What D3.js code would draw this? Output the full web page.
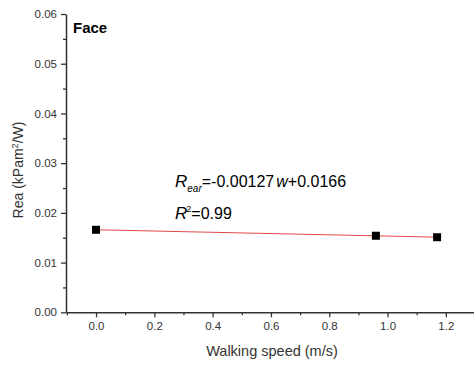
<!DOCTYPE html>
<html>
<head>
<meta charset="utf-8">
<script src="https://cdn.jsdelivr.net/npm/d3@7"></script>
<style>
  body { margin: 0; background: #fff; }
  svg { font-family: Arial, "Liberation Sans", sans-serif; }
</style>
</head>
<body>
<svg class="chart" width="474" height="366"></svg>
<script>
// data
const speeds = [0, 0.96, 1.17];
const reaValues = [0.0166, 0.0154, 0.0151];
const xTicks = [0, 0.2, 0.4, 0.6, 0.8, 1.0, 1.2];
const yTicks = [0, 0.01, 0.02, 0.03, 0.04, 0.05, 0.06];
const fitSlope = -0.00127;
const fitIntercept = 0.0166;

const svg = d3.select('.chart');

const x = d3.scaleLinear().domain([-0.103, 1.3]).range([66, 475]);
const y = d3.scaleLinear().domain([0, 0.06]).range([312.3, 14]);

const axisColor = '#333';

// minor ticks
svg.append('g')
   .attr('transform', `translate(0, ${y(0)})`)
   .call(d3.axisBottom(x).tickValues(d3.range(-0.1, 1.31, 0.1).filter(v => Math.abs(Math.round(v * 10) % 2) === 1)).tickSize(3).tickFormat(''))
   .call(g => g.select('.domain').remove())
   .call(g => g.selectAll('line').attr('stroke', axisColor).attr('stroke-width', 1.3));

svg.append('g')
   .attr('transform', `translate(${x.range()[0]}, 0)`)
   .call(d3.axisLeft(y).tickValues(d3.range(0.005, 0.06, 0.01)).tickSize(3).tickFormat(''))
   .call(g => g.select('.domain').remove())
   .call(g => g.selectAll('line').attr('stroke', axisColor).attr('stroke-width', 1.3));

// major axes
const xAxis = svg.append('g')
   .attr('transform', `translate(0, ${y(0)})`)
   .call(d3.axisBottom(x).tickValues(xTicks).tickSize(5).tickPadding(5).tickFormat(d3.format('.1f')).tickSizeOuter(0));

const yAxis = svg.append('g')
   .attr('transform', `translate(${x.range()[0]}, 0)`)
   .call(d3.axisLeft(y).tickValues(yTicks).tickSize(5).tickPadding(4).tickFormat(d3.format('.2f')).tickSizeOuter(0));

[xAxis, yAxis].forEach(a => {
  a.select('.domain').attr('stroke', axisColor).attr('stroke-width', 1.5);
  a.selectAll('.tick line').attr('stroke', axisColor).attr('stroke-width', 1.3);
  a.selectAll('.tick text').attr('fill', '#333').style('font-size', '11.5px')
   .style('font-family', 'Arial, "Liberation Sans", sans-serif');
});

// fit line
const fit = w => fitSlope * w + fitIntercept;
svg.append('line')
   .attr('x1', x(0)).attr('y1', y(fit(0)))
   .attr('x2', x(speeds[speeds.length - 1])).attr('y2', y(fit(speeds[speeds.length - 1])))
   .attr('stroke', '#e04848')
   .attr('stroke-width', 1);

// points
svg.append('g')
   .selectAll('rect')
   .data(speeds.map((s, i) => ({ s, v: reaValues[i] })))
   .enter().append('rect')
     .attr('x', d => x(d.s) - 4)
     .attr('y', d => y(d.v) - 4)
     .attr('width', 8)
     .attr('height', 8)
     .attr('fill', '#000');

// labels
svg.append('text')
   .attr('x', 73).attr('y', 33)
   .style('font-size', '15px').style('font-weight', 'bold')
   .text('Face');

svg.append('text')
   .attr('x', 272).attr('y', 356)
   .attr('text-anchor', 'middle')
   .attr('fill', '#333')
   .style('font-size', '14.5px')
   .text('Walking speed (m/s)');

const yl = svg.append('text')
   .attr('transform', 'translate(23, 170) rotate(-90)')
   .attr('text-anchor', 'middle')
   .attr('fill', '#333')
   .style('font-size', '14px');
yl.append('tspan').text('Rea (kPam');
yl.append('tspan').attr('dy', -5).style('font-size', '9px').text('2');
yl.append('tspan').attr('dy', 5).text('/W)');

// equation
const eq = svg.append('text')
   .attr('x', 175).attr('y', 187)
   .style('font-size', '16px');
eq.append('tspan').style('font-style', 'italic').style('font-size', '17px').text('R');
eq.append('tspan').attr('dy', 5).style('font-size', '10px').style('font-style', 'italic').text('ear');
eq.append('tspan').attr('dy', -5).text('=-0.00127');
eq.append('tspan').attr('dx', 2).style('font-style', 'italic').text('w');
eq.append('tspan').text('+0.0166');

const r2 = svg.append('text')
   .attr('x', 175).attr('y', 219)
   .style('font-size', '16px');
r2.append('tspan').style('font-style', 'italic').style('font-size', '17px').text('R');
r2.append('tspan').attr('dy', -7).attr('dx', -1).style('font-size', '9px').text('2');
r2.append('tspan').attr('dy', 7).text('=0.99');
</script>
</body>
</html>
